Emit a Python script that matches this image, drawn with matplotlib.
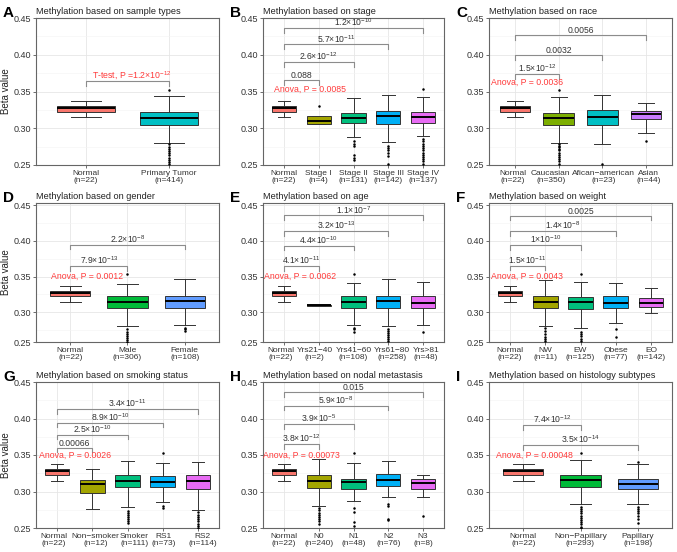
import matplotlib
matplotlib.use('Agg')
import matplotlib.pyplot as plt
from matplotlib.ticker import MultipleLocator
from matplotlib.transforms import ScaledTranslation

plt.rcParams['font.family'] = ['Liberation Sans', 'DejaVu Sans']
plt.rcParams['mathtext.fontset'] = 'custom'
plt.rcParams['mathtext.rm'] = 'Liberation Sans'
plt.rcParams['mathtext.it'] = 'Liberation Sans:italic'
plt.rcParams['mathtext.default'] = 'regular'

# box stats: (whislo, q1, median, q3, whishi)
normal_box = (0.315, 0.3225, 0.3275, 0.3305, 0.3375)

# A: sample types
a_groups = ['Normal', 'Primary Tumor']
a_n = [22, 414]
a_boxes = [normal_box, (0.280, 0.305, 0.3143, 0.3215, 0.344)]
a_fliers = [[], [0.352, 0.278, 0.275, 0.272, 0.269, 0.266, 0.263, 0.260, 0.257, 0.254, 0.251]]
a_pvals = ['']
a_test = 'T-test, P =1.2×10$^{-12}$'

# B: stage
b_groups = ['Normal', 'Stage I', 'Stage II', 'Stage III', 'Stage IV']
b_n = [22, 4, 131, 142, 137]
b_boxes = [normal_box, (0.3052, 0.3058, 0.3095, 0.3165, 0.3165),
           (0.2876, 0.3076, 0.3136, 0.321, 0.341), (0.281, 0.306, 0.317, 0.3237, 0.345),
           (0.289, 0.3078, 0.3155, 0.322, 0.343)]
b_fliers = [[], [0.3304], [0.283, 0.279, 0.276, 0.264, 0.259, 0.257],
            [0.276, 0.273, 0.270, 0.266, 0.262, 0.251],
            [0.353, 0.285, 0.282, 0.279, 0.276, 0.273, 0.270, 0.267, 0.264, 0.261, 0.258, 0.255, 0.252]]
b_pvals = ['0.088', '2.6×10$^{-12}$', '5.7×10$^{-11}$', '1.2×10$^{-10}$']
b_test = 'Anova, P = 0.0085'

# C: race
c_groups = ['Normal', 'Caucasian', 'Afican−american', 'Asian']
c_n = [22, 350, 23, 44]
c_boxes = [normal_box, (0.2803, 0.3047, 0.314, 0.3213, 0.3424),
           (0.278, 0.305, 0.3157, 0.3254, 0.3447), (0.294, 0.312, 0.319, 0.324, 0.3337)]
c_fliers = [[], [0.3525, 0.278, 0.276, 0.274, 0.272, 0.270, 0.267, 0.264, 0.261, 0.258, 0.255, 0.252],
            [0.252], [0.2826]]
c_pvals = ['1.5×10$^{-12}$', '0.0032', '0.0056']
c_test = 'Anova, P = 0.0036'

# D: gender
d_groups = ['Normal', 'Male', 'Female']
d_n = [22, 306, 108]
d_boxes = [normal_box, (0.2806, 0.306, 0.3144, 0.3228, 0.3402), (0.2825, 0.306, 0.3162, 0.3228, 0.3463)]
d_fliers = [[], [0.3538, 0.276, 0.273, 0.270, 0.267, 0.264, 0.261, 0.259], [0.278, 0.276, 0.274]]
d_pvals = ['7.9×10$^{-13}$', '2.2×10$^{-8}$']
d_test = 'Anova, P = 0.0012'

# E: age
e_groups = ['Normal', 'Yrs21−40', 'Yrs41−60', 'Yrs61−80', 'Yrs>81']
e_n = [22, 2, 108, 258, 48]
e_boxes = [normal_box, (0.3092, 0.3092, 0.3096, 0.3100, 0.3100),
           (0.2816, 0.306, 0.3144, 0.3233, 0.3411), (0.2806, 0.3055, 0.3158, 0.3223, 0.3463),
           (0.2816, 0.3064, 0.3135, 0.3233, 0.3425)]
e_fliers = [[], [], [0.3533, 0.278, 0.276, 0.273],
            [0.277, 0.274, 0.271, 0.268, 0.265, 0.262, 0.260], [0.272]]
e_pvals = ['4.1×10$^{-11}$', '4.4×10$^{-10}$', '3.2×10$^{-13}$', '1.1×10$^{-7}$']
e_test = 'Anova, P = 0.0062'

# F: weight
f_groups = ['Normal', 'NW', 'EW', 'Obese', 'EO']
f_n = [22, 11, 125, 77, 142]
f_boxes = [normal_box, (0.2806, 0.3055, 0.3148, 0.3228, 0.3458),
           (0.2783, 0.304, 0.3148, 0.3214, 0.343), (0.2853, 0.306, 0.313, 0.3223, 0.3411),
           (0.2994, 0.3073, 0.3135, 0.320, 0.3345)]
f_fliers = [[], [0.2774, 0.274, 0.270, 0.266, 0.262, 0.260],
            [0.353, 0.273, 0.270, 0.267, 0.263, 0.260], [0.277, 0.266], []]
f_pvals = ['1.5×10$^{-11}$', '1×10$^{-10}$', '1.4×10$^{-8}$', '0.0025']
f_test = 'Anova, P = 0.0043'

# G: smoking status
g_groups = ['Normal', 'Non−smoker', 'Smoker', 'RS1', 'RS2']
g_n = [22, 12, 111, 73, 114]
g_boxes = [normal_box, (0.2755, 0.2981, 0.3097, 0.3162, 0.3306),
           (0.2787, 0.3056, 0.3148, 0.3231, 0.3421), (0.2856, 0.3056, 0.3134, 0.3213, 0.3389),
           (0.2745, 0.3032, 0.3139, 0.3222, 0.3403)]
g_fliers = [[], [], [0.2736, 0.271, 0.268, 0.265, 0.262, 0.259, 0.2574],
            [0.3523, 0.2806, 0.2775],
            [0.2713, 0.268, 0.265, 0.262, 0.259, 0.256, 0.253, 0.2505]]
g_pvals = ['0.00066', '2.5×10$^{-10}$', '8.9×10$^{-10}$', '3.4×10$^{-11}$']
g_test = 'Anova, P = 0.0026'

# H: nodal metastasis
h_groups = ['Normal', 'N0', 'N1', 'N2', 'N3']
h_n = [22, 240, 48, 76, 8]
h_boxes = [normal_box, (0.2801, 0.3051, 0.3148, 0.3231, 0.344),
           (0.2866, 0.3032, 0.3134, 0.3176, 0.3389), (0.2926, 0.3074, 0.3153, 0.3245, 0.3421),
           (0.293, 0.3032, 0.3111, 0.3176, 0.3231)]
h_fliers = [[], [0.277, 0.274, 0.271, 0.268, 0.265, 0.262, 0.259, 0.256],
            [0.3528, 0.2769, 0.2722, 0.2583, 0.2528], [0.2829, 0.2796, 0.263, 0.2611], [0.2667]]
h_pvals = ['3.8×10$^{-12}$', '3.9×10$^{-5}$', '5.9×10$^{-8}$', '0.015']
h_test = 'Anova, P = 0.00073'

# I: histology subtypes
i_groups = ['Normal', 'Non−Papillary', 'Papillary']
i_n = [22, 293, 198]
i_boxes = [normal_box, (0.2832, 0.3064, 0.3159, 0.3227, 0.3436), (0.2832, 0.3036, 0.3109, 0.3173, 0.3382)]
i_fliers = [[], [0.3523, 0.2786, 0.276, 0.273, 0.270, 0.267, 0.264, 0.261, 0.258, 0.255, 0.252, 0.250],
            [0.340, 0.2786, 0.276, 0.273, 0.270, 0.266, 0.262, 0.2564]]
i_pvals = ['7.4×10$^{-12}$', '3.5×10$^{-14}$']
i_test = 'Anova, P = 0.00048'

hue = {2: ['#F8766D', '#00BFC4'],
       3: ['#F8766D', '#00BA38', '#619CFF'],
       4: ['#F8766D', '#7CAE00', '#00BFC4', '#C77CFF'],
       5: ['#F8766D', '#A3A500', '#00BF7D', '#00B0F6', '#E76BF3']}

W, H = 677, 552
fig = plt.figure(figsize=(W / 100, H / 100), dpi=100)


def px_axes(x0, y0, x1, y1):
    return fig.add_axes([x0 / W, 1 - y1 / H, (x1 - x0) / W, (y1 - y0) / H])


def draw_panel(rect, letter, title, groups, ns, boxes, fliers, pvals, bracket_y,
               test, test_xy, ylabel=False, ylim=(0.25, 0.45), label_shift=None):
    ax = px_axes(*rect)
    k = len(groups)
    stats = []
    for i, b in enumerate(boxes):
        stats.append(dict(whislo=b[0], q1=b[1], med=b[2], q3=b[3], whishi=b[4],
                          fliers=fliers[i]))
    pos = list(range(1, k + 1))
    art = ax.bxp(stats, positions=pos, widths=0.7, capwidths=0.36, patch_artist=True,
                 boxprops=dict(edgecolor='#333333', linewidth=0.7),
                 whiskerprops=dict(color='#333333', linewidth=0.7),
                 capprops=dict(color='#333333', linewidth=0.7),
                 medianprops=dict(color='black', linewidth=1.4),
                 flierprops=dict(marker='o', markersize=1.8, markerfacecolor='black',
                                 markeredgecolor='none'), zorder=3)
    for patch, c in zip(art['boxes'], hue[k]):
        patch.set_facecolor(c)

    # comparison brackets against Normal
    tick = 0.0065
    for j, (lab, yb) in enumerate(zip(pvals, bracket_y)):
        x2 = j + 2
        ax.plot([1, 1, x2, x2], [yb - tick, yb, yb, yb - tick], color='#8c8c8c', lw=0.8, zorder=4)
        if lab:
            ax.annotate(lab, ((1 + x2) / 2, yb), xytext=(0, 1.4), textcoords='offset points',
                        ha='center', va='baseline', fontsize=6.2, color='#333333')
    ax.text(test_xy[0], test_xy[1], test, ha='center', va='center', fontsize=6.3,
            color='#ff3b3b', zorder=5)

    ax.set_xlim(0.4, k + 0.6)
    ax.set_ylim(*ylim)
    ax.set_xticks(pos)
    ax.set_xticklabels([f'{g}\n(n={n})' for g, n in zip(groups, ns)], fontsize=6.0,
                       color='#333333', linespacing=0.95)
    ax.yaxis.set_minor_locator(MultipleLocator(0.025))
    # middle row is cropped a little at the bottom; its 0.25 label sits on the edge
    ax.set_yticks([max(0.25, ylim[0]), 0.30, 0.35, 0.40, 0.45])
    ax.set_yticklabels(['0.25', '0.30', '0.35', '0.40', '0.45'], fontsize=6.5, color='#333333')
    ax.tick_params(axis='both', which='major', length=2, width=0.6, color='#555555', pad=1.5)
    ax.tick_params(axis='y', which='minor', length=0)
    if label_shift:
        # crowded labels are nudged sideways a few pixels, as in the original
        # (done after tick_params, which resets the label transforms)
        for lbl, dx in zip(ax.get_xticklabels(), label_shift):
            lbl.set_transform(lbl.get_transform() + ScaledTranslation(dx / 100, 0, fig.dpi_scale_trans))
    ax.grid(True, which='major', color='#e6e6e6', lw=0.6, zorder=0)
    ax.grid(True, which='minor', axis='y', color='#f3f3f3', lw=0.4, zorder=0)
    ax.set_axisbelow(True)
    for s in ax.spines.values():
        s.set_color('#666666')
        s.set_linewidth(0.8)
    ax.set_title(title, loc='left', fontsize=6.6, pad=3, color='#222222')
    if ylabel:
        ax.set_ylabel('Beta value', fontsize=7, labelpad=2, color='#222222')
    fig.text(rect[0] / W - 33 / W, 1 - (rect[1] - 5) / H, letter, fontsize=11,
             fontweight='bold', ha='left', va='center')
    return ax


rows = [(18, 165), (203, 342), (382, 528)]
cols = [(36, 219), (263, 444), (489, 672)]
mid_ylim = (0.2583, 0.4533)

draw_panel((cols[0][0], rows[0][0], cols[0][1], rows[0][1]), 'A',
           'Methylation based on sample types', a_groups, a_n, a_boxes, a_fliers,
           a_pvals, [0.364], a_test, (1.55, 0.3715), ylabel=True)
draw_panel((cols[1][0], rows[0][0], cols[1][1], rows[0][1]), 'B',
           'Methylation based on stage', b_groups, b_n, b_boxes, b_fliers,
           b_pvals, [0.3653, 0.3899, 0.414, 0.4363], b_test, (1.74, 0.353))
draw_panel((cols[2][0], rows[0][0], cols[2][1], rows[0][1]), 'C',
           'Methylation based on race', c_groups, c_n, c_boxes, c_fliers,
           c_pvals, [0.374, 0.400, 0.4268], c_test, (1.27, 0.362),
           label_shift=[-2, -8, 1, 3])
draw_panel((cols[0][0], rows[1][0], cols[0][1], rows[1][1]), 'D',
           'Methylation based on gender', d_groups, d_n, d_boxes, d_fliers,
           d_pvals, [0.365, 0.395], d_test, (1.30, 0.3505), ylabel=True, ylim=mid_ylim)
draw_panel((cols[1][0], rows[1][0], cols[1][1], rows[1][1]), 'E',
           'Methylation based on age', e_groups, e_n, e_boxes, e_fliers,
           e_pvals, [0.365, 0.3936, 0.4142, 0.4358], e_test, (1.46, 0.3509), ylim=mid_ylim,
           label_shift=[-3, -4, 0, 4, 3])
draw_panel((cols[2][0], rows[1][0], cols[2][1], rows[1][1]), 'F',
           'Methylation based on weight', f_groups, f_n, f_boxes, f_fliers,
           f_pvals, [0.3655, 0.394, 0.4142, 0.4353], f_test, (1.48, 0.3509), ylim=mid_ylim)
draw_panel((cols[0][0], rows[2][0], cols[0][1], rows[2][1]), 'G',
           'Methylation based on smoking status', g_groups, g_n, g_boxes, g_fliers,
           g_pvals, [0.3602, 0.3778, 0.3944, 0.4125], g_test, (1.51, 0.350), ylabel=True,
           label_shift=[-3, 3, 7, 1, 5])
draw_panel((cols[1][0], rows[2][0], cols[1][1], rows[2][1]), 'H',
           'Methylation based on nodal metastasis', h_groups, h_n, h_boxes, h_fliers,
           h_pvals, [0.3648, 0.3926, 0.4176, 0.4361], h_test, (1.51, 0.350))
draw_panel((cols[2][0], rows[2][0], cols[2][1], rows[2][1]), 'I',
           'Methylation based on histology subtypes', i_groups, i_n, i_boxes, i_fliers,
           i_pvals, [0.3909, 0.3636], i_test, (1.19, 0.349))

fig.savefig('out.png', dpi=100)
